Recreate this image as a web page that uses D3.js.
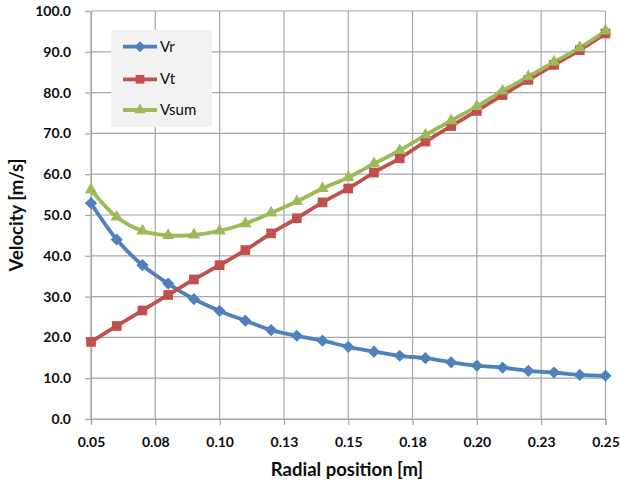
<!DOCTYPE html>
<html>
<head>
<meta charset="utf-8">
<script src="https://cdn.jsdelivr.net/npm/d3@7"></script>
<style>
  html, body { margin: 0; padding: 0; background: #fff; }
  svg { display: block; }
  text { font-family: Lato, "Open Sans", sans-serif; }
</style>
</head>
<body>
<svg id="chart" width="620" height="486"></svg>
<script>
// ---- data ----
const radius = [0.05,0.06,0.07,0.08,0.09,0.10,0.11,0.12,0.13,0.14,0.15,0.16,0.17,0.18,0.19,0.20,0.21,0.22,0.23,0.24,0.25];
const vr   = [52.9,44.0,37.7,33.2,29.4,26.5,24.1,21.8,20.4,19.2,17.7,16.5,15.5,14.9,13.9,13.1,12.6,11.8,11.4,10.8,10.6];
const vt   = [18.9,22.8,26.6,30.4,34.2,37.7,41.4,45.5,49.2,53.1,56.5,60.4,63.9,68.0,71.8,75.5,79.4,83.1,86.8,90.4,94.5];
const vsum = [56.2,49.5,46.1,45.0,45.1,46.1,47.9,50.5,53.3,56.5,59.2,62.6,65.8,69.6,73.1,76.6,80.4,83.9,87.5,91.0,95.1];
const xTicks = [0.05,0.075,0.10,0.125,0.15,0.175,0.20,0.225,0.25];
const xTickLabels = ["0.05","0.08","0.10","0.13","0.15","0.18","0.20","0.23","0.25"];
const yTicks = [0,10,20,30,40,50,60,70,80,90,100];
const seriesNames = ["Vr","Vt","Vsum"];
const xTitle = "Radial position [m]";
const yTitle = "Velocity [m/s]";

const series = [
  { name: seriesNames[0], values: vr,   color: "#4F81BD", symbol: d3.symbolDiamond2, size: 95 },
  { name: seriesNames[1], values: vt,   color: "#C0504D", symbol: d3.symbolSquare2,  size: 120 },
  { name: seriesNames[2], values: vsum, color: "#9BBB59", symbol: d3.symbolTriangle2, size: 110 }
];

// ---- layout ----
const svg = d3.select("#chart");
const m = { left: 91, right: 620 - 605.5, top: 11, bottom: 486 - 419 };
const W = 620, H = 486;
const x = d3.scaleLinear().domain([0.05, 0.25]).range([m.left, W - m.right]);
const y = d3.scaleLinear().domain([0, 100]).range([H - m.bottom, m.top]);
const gridColor = "#a6a6a6";

// gridlines
svg.append("g").selectAll("line.gx").data(xTicks).join("line")
  .attr("x1", d => x(d)).attr("x2", d => x(d))
  .attr("y1", y(0)).attr("y2", y(100))
  .attr("stroke", gridColor).attr("stroke-width", 1.2);
svg.append("g").selectAll("line.gy").data(yTicks).join("line")
  .attr("x1", x(0.05)).attr("x2", x(0.25))
  .attr("y1", d => y(d)).attr("y2", d => y(d))
  .attr("stroke", gridColor).attr("stroke-width", 1.2);

// axes
const xAxis = d3.axisBottom(x).tickValues(xTicks)
  .tickFormat((d, i) => xTickLabels[i]).tickSize(6).tickPadding(12);
const gx = svg.append("g").attr("transform", `translate(0,${y(0)})`).call(xAxis);
const yAxis = d3.axisLeft(y).tickValues(yTicks)
  .tickFormat(d3.format(".1f")).tickSize(6).tickPadding(14);
const gy = svg.append("g").attr("transform", `translate(${x(0.05)},0)`).call(yAxis);
[gx, gy].forEach(g => {
  g.select(".domain").attr("stroke", gridColor).attr("stroke-width", 1.2);
  g.selectAll(".tick line").attr("stroke", gridColor).attr("stroke-width", 1.2);
  g.selectAll(".tick text").attr("fill", "#0d0d0d")
    .style("font-family", "Lato, sans-serif").style("font-size", "14px").style("font-weight", "bold");
});

// axis titles
svg.append("text").attr("x", 347).attr("y", 476).attr("text-anchor", "middle")
  .style("font-size", "18.5px").style("font-weight", "bold").attr("fill", "#0d0d0d").text(xTitle);
svg.append("text").attr("transform", "translate(23,215) rotate(-90)").attr("text-anchor", "middle")
  .style("font-size", "18.5px").style("font-weight", "bold").attr("fill", "#0d0d0d").text(yTitle);

// lines
const line = d3.line().x((d, i) => x(radius[i])).y(d => y(d)).curve(d3.curveCatmullRom);
series.forEach(s => {
  svg.append("path").datum(s.values).attr("d", line)
    .attr("fill", "none").attr("stroke", s.color).attr("stroke-width", 3.8)
    .attr("stroke-linejoin", "round");
});
// markers
series.forEach(s => {
  const sym = d3.symbol().type(s.symbol).size(s.size);
  svg.append("g").selectAll("path").data(s.values).join("path")
    .attr("d", sym)
    .attr("transform", (d, i) => `translate(${x(radius[i])},${y(d)})`)
    .attr("fill", s.color);
});

// legend
const lg = svg.append("g");
lg.append("rect").attr("x", 111).attr("y", 30).attr("width", 101).attr("height", 97).attr("fill", "#f2f2f2");
const legY = [46.7, 79.3, 110];
series.forEach((s, i) => {
  lg.append("line").attr("x1", 123).attr("x2", 157).attr("y1", legY[i]).attr("y2", legY[i])
    .attr("stroke", s.color).attr("stroke-width", 3.8);
  lg.append("path").attr("d", d3.symbol().type(s.symbol).size(s.size * 0.8))
    .attr("transform", `translate(140,${legY[i]})`).attr("fill", s.color);
  lg.append("text").attr("x", 160).attr("y", legY[i] + 5).style("font-size", "15px")
    .attr("fill", "#0d0d0d").text(s.name);
});
</script>
</body>
</html>
